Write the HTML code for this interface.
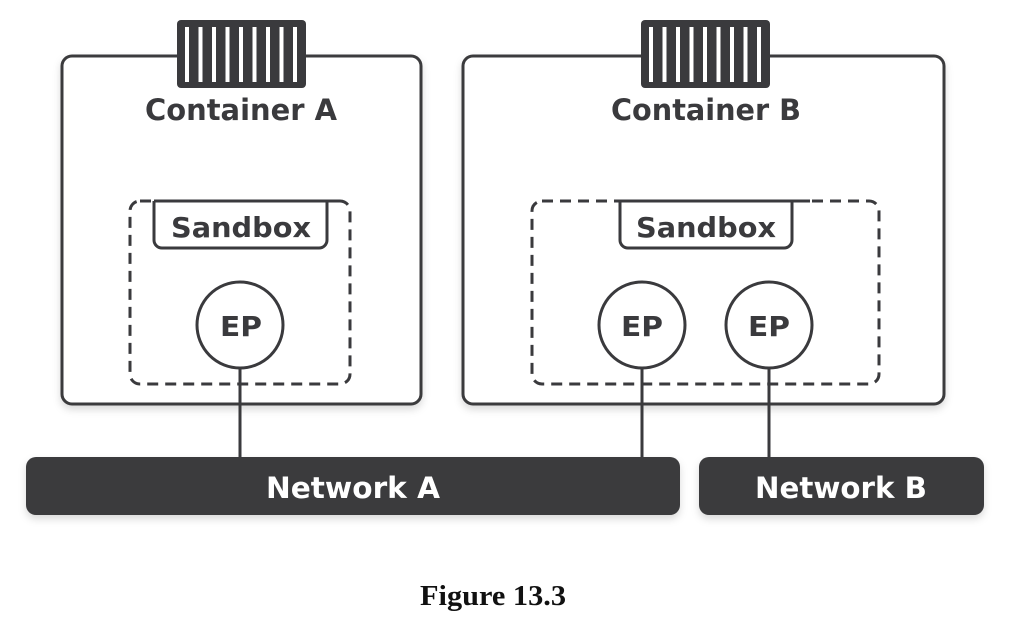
<!DOCTYPE html>
<html><head><style>
html,body{margin:0;padding:0;background:#fff;}
</style></head><body>
<svg width="1012" height="630" viewBox="0 0 1012 630" xmlns="http://www.w3.org/2000/svg">
<defs><filter id="s" x="-10%" y="-10%" width="120%" height="130%"><feDropShadow dx="0" dy="4" stdDeviation="4" flood-color="#000" flood-opacity="0.15"/></filter></defs>
<g fill="none" stroke="#3a3a3d" stroke-width="3">
<rect x="62" y="56" width="359" height="348" rx="10" fill="#fff" filter="url(#s)"/>
<rect x="463" y="56" width="481" height="348" rx="10" fill="#fff" filter="url(#s)"/>
<rect x="130" y="201" width="220" height="183" rx="10" stroke-dasharray="11,7"/>
<rect x="532" y="201" width="347" height="183" rx="10" stroke-dasharray="11,7"/>
<path d="M154 201 V240 a8 8 0 0 0 8 8 H319 a8 8 0 0 0 8 -8 V201 M154 201 H339" fill="#fff"/>
<path d="M620 201 V240 a8 8 0 0 0 8 8 H784 a8 8 0 0 0 8 -8 V201 M620 201 H810" fill="#fff"/>
<line x1="240" y1="368" x2="240" y2="458"/>
<line x1="642" y1="368" x2="642" y2="458"/>
<line x1="769" y1="368" x2="769" y2="458"/>
<circle cx="240" cy="325" r="43" fill="#fff"/>
<circle cx="642" cy="325" r="43" fill="#fff"/>
<circle cx="769" cy="325" r="43" fill="#fff"/>
</g>
<g fill="#3a3a3d">
<rect x="177" y="20" width="129" height="68" rx="4"/>
<rect x="641" y="20" width="129" height="68" rx="4"/>
<rect x="26" y="457" width="654" height="58" rx="10" filter="url(#s)"/>
<rect x="699" y="457" width="285" height="58" rx="10" filter="url(#s)"/>
</g>
<g fill="#fff">
<rect x="185" y="27" width="4" height="55"/><rect x="198.5" y="27" width="4" height="55"/><rect x="212" y="27" width="4" height="55"/><rect x="225.5" y="27" width="4" height="55"/><rect x="239" y="27" width="4" height="55"/><rect x="252.5" y="27" width="4" height="55"/><rect x="266" y="27" width="4" height="55"/><rect x="279.5" y="27" width="4" height="55"/><rect x="293" y="27" width="4" height="55"/>
<rect x="649" y="27" width="4" height="55"/><rect x="662.5" y="27" width="4" height="55"/><rect x="676" y="27" width="4" height="55"/><rect x="689.5" y="27" width="4" height="55"/><rect x="703" y="27" width="4" height="55"/><rect x="716.5" y="27" width="4" height="55"/><rect x="730" y="27" width="4" height="55"/><rect x="743.5" y="27" width="4" height="55"/><rect x="757" y="27" width="4" height="55"/>
</g>
<g font-family="'DejaVu Sans','Liberation Sans',sans-serif" font-weight="bold" fill="#3a3a3d" text-anchor="middle" lengthAdjust="spacingAndGlyphs">
<text x="241" y="120" font-size="29" textLength="192" lengthAdjust="spacingAndGlyphs">Container A</text>
<text x="706" y="120" font-size="29" textLength="190" lengthAdjust="spacingAndGlyphs">Container B</text>
<text x="241" y="237" font-size="28" textLength="140" lengthAdjust="spacingAndGlyphs">Sandbox</text>
<text x="706" y="237" font-size="28" textLength="140" lengthAdjust="spacingAndGlyphs">Sandbox</text>
<text x="241" y="336" font-size="28" textLength="42" lengthAdjust="spacingAndGlyphs">EP</text>
<text x="642" y="336" font-size="28" textLength="42" lengthAdjust="spacingAndGlyphs">EP</text>
<text x="769" y="336" font-size="28" textLength="42" lengthAdjust="spacingAndGlyphs">EP</text>
<text x="353" y="498" font-size="29" fill="#fff" textLength="174" lengthAdjust="spacingAndGlyphs">Network A</text>
<text x="841" y="498" font-size="29" fill="#fff" textLength="172" lengthAdjust="spacingAndGlyphs">Network B</text>
</g>
<text x="493" y="605" font-family="'Liberation Serif',serif" font-weight="bold" font-size="28" fill="#111" text-anchor="middle" textLength="146" lengthAdjust="spacingAndGlyphs">Figure 13.3</text>
</svg>
</body></html>
